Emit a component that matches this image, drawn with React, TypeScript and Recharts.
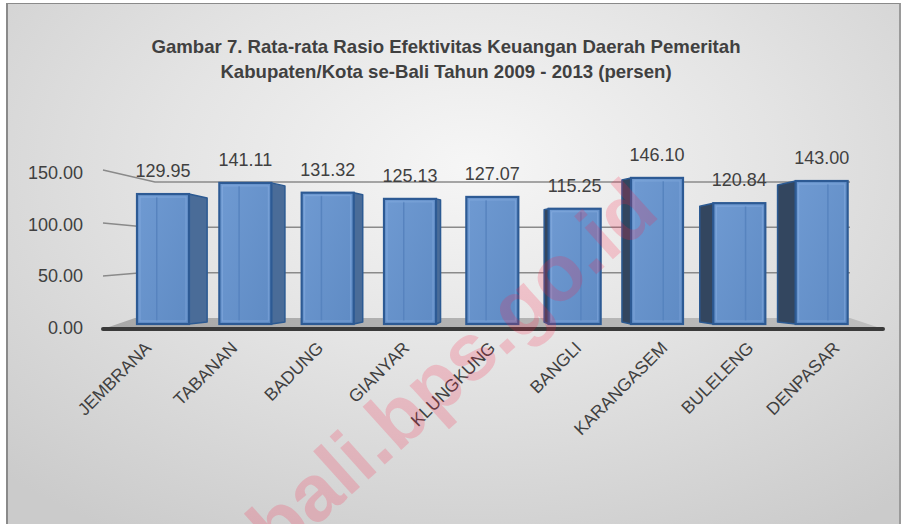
import { BarChart, Bar, XAxis, YAxis, CartesianGrid, LabelList } from "recharts";

const regencies = [
  "JEMBRANA",
  "TABANAN",
  "BADUNG",
  "GIANYAR",
  "KLUNGKUNG",
  "BANGLI",
  "KARANGASEM",
  "BULELENG",
  "DENPASAR",
];
const ratios = [129.95, 141.11, 131.32, 125.13, 127.07, 115.25, 146.1, 120.84, 143.0];
const yTicks = [0, 50, 100, 150];
const titleLines = [
  "Gambar 7. Rata-rata Rasio Efektivitas Keuangan Daerah Pemeritah",
  "Kabupaten/Kota se-Bali Tahun 2009 - 2013 (persen)",
];

const W = 904;
const H = 524;
const X_AXIS_H = 30;
const MARGIN = { top: 174, right: 41, bottom: 200 - X_AXIS_H, left: 0 };
const Y_AXIS_W = 122;
const FLOOR = H - MARGIN.bottom - X_AXIS_H; // front-plane y of value 0
const MID = (Y_AXIS_W + W - MARGIN.right) / 2; // vanishing column

const TEXT = "#404040";
const FONT = "'Liberation Sans', Arial, sans-serif";

const data = regencies.map((name, i) => ({ name, value: ratios[i] }));

// perspective gridline: front label -> back wall
function GridLine(props: any) {
  const { x1, x2, y1, index } = props;
  const depth = FLOOR - y1;
  const fx = x1 - 19;
  const fy = FLOOR + 5 - depth * 1.06;
  const bx = x1 + 13 + depth * 0.133;
  const by = FLOOR - 6 - depth * 0.907;
  const br = x2 - 13;
  if (depth < 1) {
    return (
      <g key={`g-${index}`}>
        <polygon points={`${fx},${fy} ${bx},${by} ${br},${by} ${x2 + 20},${fy}`} fill="url(#floorFill)" />
        <line x1={fx} y1={fy} x2={x2 + 20} y2={fy} stroke="#3a3a3a" strokeWidth={4} strokeLinecap="round" />
      </g>
    );
  }
  return (
    <polyline
      key={`g-${index}`}
      points={`${fx},${fy} ${bx},${by} ${br},${by}`}
      fill="none"
      stroke="#8a8a8a"
      strokeWidth={1.5}
    />
  );
}

function Bar3D(props: any) {
  const { x, y, width: w, height: h } = props;
  if (!h || h <= 0) return null;
  const s = (MID - (x + w / 2)) * 0.055;
  const drop = Math.abs(s) * 0.22;
  const edge = s > 0 ? x + w : x;
  const side = `${edge},${y} ${edge + s},${y + drop} ${edge + s},${y + h - 2} ${edge},${y + h}`;
  const sheen = s >= 0 ? x + w * 0.38 : x + w * 0.62;
  return (
    <g>
      {Math.abs(s) > 0.8 && (
        <polygon
          points={side}
          fill={s > 0 ? "#4a6c98" : "#33465f"}
          stroke="#2c5a92"
          strokeWidth={1.5}
          strokeLinejoin="round"
        />
      )}
      <rect x={x} y={y} width={w} height={h} fill="url(#frontFill)" stroke="#2d5a94" strokeWidth={2.2} />
      <line x1={sheen} y1={y + 3} x2={sheen} y2={y + h - 3} stroke="#5784bf" strokeWidth={1.5} />
      <rect x={x + 3} y={y + 3} width={w - 6} height={h - 6} fill="none" stroke="rgba(160,195,240,0.35)" />
    </g>
  );
}

function ValueTick({ x, y, payload }: any) {
  const depth = FLOOR - y;
  return (
    <text
      x={x}
      y={y}
      dx={-31}
      dy={10 - depth * 0.035}
      textAnchor="end"
      fontSize={18}
      fill={TEXT}
      fontFamily={FONT}
    >
      {Number(payload.value).toFixed(2)}
    </text>
  );
}

function CategoryTick({ x, y, payload }: any) {
  const ax = x + (x - MID) * 0.045 + 4;
  const ay = y + 17;
  return (
    <text
      x={ax}
      y={ay}
      transform={`rotate(-45 ${ax} ${ay})`}
      textAnchor="end"
      fontSize={17.5}
      fill={TEXT}
      fontFamily={FONT}
    >
      {payload.value}
    </text>
  );
}

export default function App() {
  return (
    <div
      style={{
        position: "absolute",
        left: 0,
        top: 0,
        width: W,
        height: H,
        overflow: "hidden",
        background: "#fff",
      }}
    >
      <svg width={0} height={0} style={{ position: "absolute" }}>
        <defs>
          <linearGradient id="frontFill" x1="0" y1="0" x2="1" y2="1">
            <stop offset="0%" stopColor="#6f9ad2" />
            <stop offset="100%" stopColor="#5f8bc4" />
          </linearGradient>
          <linearGradient id="floorFill" x1="0" y1="0" x2="1" y2="0">
            <stop offset="0%" stopColor="#a9a9a9" />
            <stop offset="100%" stopColor="#bdbdbd" />
          </linearGradient>
        </defs>
      </svg>
      <div
        style={{
          position: "absolute",
          left: 6,
          top: 3,
          width: 891,
          height: 540,
          borderLeft: "2px solid #8a8a8a",
          borderTop: "1px solid #8a8a8a",
          borderRight: "2px solid #9a9a9a",
          background: "radial-gradient(ellipse 75% 80% at 52% 30%, #f6f6f6 0%, #e4e4e4 45%, #cbcbcb 100%)",
        }}
      />
      <div
        style={{
          position: "absolute",
          left: 0,
          top: 34,
          width: W - 12,
          textAlign: "center",
          fontFamily: FONT,
          fontWeight: "bold",
          fontSize: 18.6,
          lineHeight: "25px",
          color: TEXT,
        }}
      >
        {titleLines.map((t) => (
          <div key={t}>{t}</div>
        ))}
      </div>
      <div style={{ position: "absolute", left: 0, top: 0 }}>
        <BarChart width={W} height={H} data={data} margin={MARGIN}>
          <CartesianGrid vertical={false} horizontal={GridLine as any} />
          <XAxis
            dataKey="name"
            height={X_AXIS_H}
            axisLine={false}
            tickLine={false}
            interval={0}
            tick={<CategoryTick />}
          />
          <YAxis
            width={Y_AXIS_W}
            domain={[0, 150]}
            ticks={yTicks}
            axisLine={false}
            tickLine={false}
            tick={<ValueTick />}
          />
          <Bar dataKey="value" barSize={52} shape={<Bar3D />} isAnimationActive={false}>
            <LabelList
              dataKey="value"
              position="top"
              offset={17}
              formatter={(v: any) => Number(v).toFixed(2)}
              fill={TEXT}
              fontSize={18}
              fontFamily={FONT}
            />
          </Bar>
        </BarChart>
      </div>
      <svg width={W} height={H} style={{ position: "absolute", left: 0, top: 0, pointerEvents: "none" }}>
        <text
          x={470}
          y={388}
          transform="rotate(-42 470 388)"
          textAnchor="middle"
          fontSize={80}
          fontWeight="bold"
          fontFamily={FONT}
          fill="rgb(255,30,70)"
          fillOpacity={0.2}
        >
          bali.bps.go.id
        </text>
      </svg>
    </div>
  );
}
